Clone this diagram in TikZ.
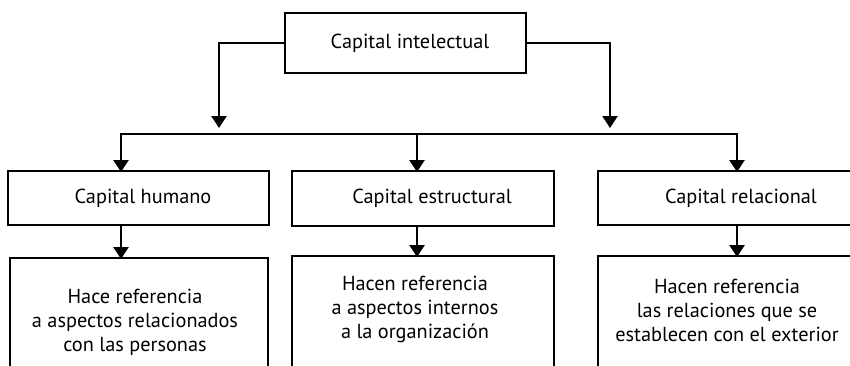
\documentclass[tikz,border=0pt]{standalone}
\usepackage{fontspec}
\setmainfont{PT Sans}
\usetikzlibrary{arrows.meta}
\begin{document}
\begin{tikzpicture}[x=1pt,y=-1pt,
  box/.style={draw, line width=2.4pt, anchor=north west, inner sep=0pt, outer sep=0pt},
  lbl/.style={inner sep=0pt, align=center, font=\fontsize{20.3}{24}\selectfont},
  conn/.style={line width=2.4pt},
  arr/.style={line width=2.4pt, -{Triangle[width=15pt,length=12pt]}, shorten >=-1pt}]
\useasboundingbox (0,0) rectangle (850,365);
\clip (0,0) rectangle (850,365);
% boxes
\node[box, minimum width=241pt, minimum height=60pt] (top) at (285,13) {};
\node[box, minimum width=261pt, minimum height=54pt] (m1) at (8,171) {};
\node[box, minimum width=262pt, minimum height=55pt] (m2) at (292,171) {};
\node[box, minimum width=290pt, minimum height=54pt] (m3) at (598,171) {};
\node[box, minimum width=258pt, minimum height=140pt] (b1) at (10,258) {};
\node[box, minimum width=262pt, minimum height=140pt] (b2) at (292,256) {};
\node[box, minimum width=290pt, minimum height=140pt] (b3) at (598,256) {};
% texts
\node[lbl] (t0) at (410,43) {Capital intelectual};
\node[lbl] (t1) at (143,198) {Capital humano};
\node[lbl] (t2) at (432,198) {Capital estructural};
\node[lbl] (t3) at (741,198) {Capital relacional};
\node[lbl] (u1) at (135,322) {Hace referencia\\a aspectos relacionados\\con las personas};
\node[lbl] (u2) at (415,309) {Hacen referencia\\a aspectos internos\\a la organización};
\node[lbl] (u3) at (727,310) {Hacen referencia\\las relaciones que se\\establecen con el exterior};
% connectors
\coordinate (tl) at (219,127);
\coordinate (tr) at (610,127);
\coordinate (bL) at (121,134);
\coordinate (bM) at (417,134);
\coordinate (bR) at (737,134);
\draw[arr] (top.west) -| (tl);
\draw[arr] (top.east) -| (tr);
\draw[conn] ([xshift=-1.2pt]bL) -- ([xshift=1.2pt]bR);
\draw[arr] (bL) -- (bL |- m1.north);
\draw[arr] (bM) -- (bM |- m2.north);
\draw[arr] (bR) -- (bR |- m3.north);
\draw[arr] (m1.south -| bL) -- (bL |- b1.north);
\draw[arr] (m2.south -| bM) -- (bM |- b2.north);
\draw[arr] (m3.south -| bR) -- (bR |- b3.north);
\end{tikzpicture}
\end{document}
